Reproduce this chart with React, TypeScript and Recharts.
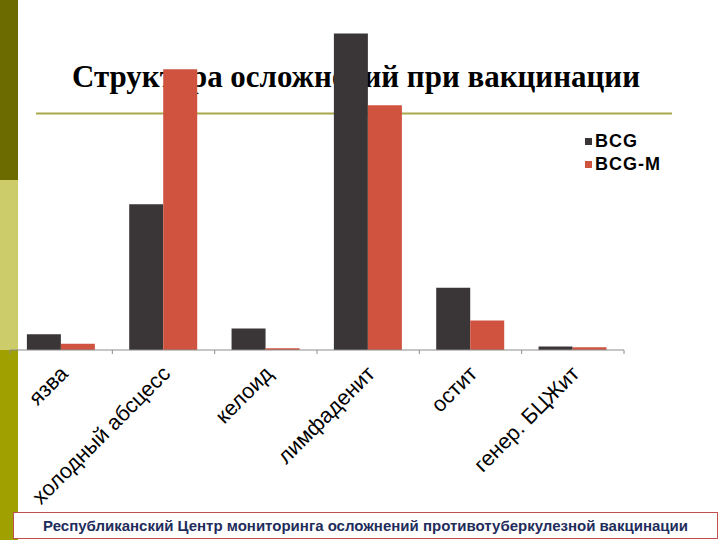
import React from "react";
import { BarChart, Bar, XAxis, YAxis } from "recharts";

const categories = ["язва", "холодный абсцесс", "келоид", "лимфаденит", "остит", "генер. БЦЖит"];
const bcgValues = [2.8, 25.8, 3.8, 56.0, 11.0, 0.6];
const bcgMValues = [1.1, 49.7, 0.3, 43.3, 5.2, 0.5];
const seriesNames = ["BCG", "BCG-M"];
const seriesColors = ["#3a3536", "#cf533f"];
const titleText = "Структура осложнений при вакцинации";
const footerText = "Республиканский Центр мониторинга осложнений противотуберкулезной вакцинации";

const data = categories.map((c, i) => ({ name: c, bcg: bcgValues[i], bcgM: bcgMValues[i] }));

const PLOT_LEFT = 10;
const PLOT_RIGHT = 624;
const BAND = (PLOT_RIGHT - PLOT_LEFT) / categories.length;

const Tick = (props: any) => {
  const { x, y, payload, index } = props;
  const half = BAND / 2;
  return (
    <g>
      <line x1={x - half} x2={x - half} y1={y} y2={y + 4} stroke="#8c8c8c" strokeWidth={1} />
      {index === categories.length - 1 && (
        <line x1={x + half} x2={x + half} y1={y} y2={y + 4} stroke="#8c8c8c" strokeWidth={1} />
      )}
      <text
        transform={`translate(${x + 8},${y + 25}) rotate(-45)`}
        textAnchor="end"
        fontFamily="'Liberation Sans', Arial, sans-serif"
        fontSize={21.5}
        fill="#000"
      >
        {payload.value}
      </text>
    </g>
  );
};

export default function App() {
  return (
    <div style={{ position: "absolute", left: 0, top: 0, width: 720, height: 540, background: "#fff", overflow: "hidden" }}>
      {/* side bar */}
      <div style={{ position: "absolute", left: 0, top: 0, width: 18, height: 180, background: "#6b6b00" }} />
      <div style={{ position: "absolute", left: 0, top: 180, width: 18, height: 170, background: "#cccc6a" }} />
      <div style={{ position: "absolute", left: 0, top: 350, width: 18, height: 190, background: "#a0a000" }} />

      {/* title and rule (behind the chart) */}
      <svg width={720} height={130} style={{ position: "absolute", left: 0, top: 0 }}>
        <text
          x={72}
          y={87}
          textLength={568}
          lengthAdjust="spacingAndGlyphs"
          fontFamily="'Liberation Serif', 'Times New Roman', serif"
          fontWeight="bold"
          fontSize={31}
          fill="#000"
        >
          {titleText}
        </text>
        <line x1={36} x2={672} y1={113.5} y2={113.5} stroke="#a8a84a" strokeWidth={2} />
      </svg>

      {/* chart */}
      <div style={{ position: "absolute", left: 0, top: 0 }}>
        <BarChart
          width={720}
          height={540}
          data={data}
          margin={{ top: 11, right: 720 - PLOT_RIGHT, left: PLOT_LEFT, bottom: 0 }}
          barCategoryGap="16.5%"
          barGap={0}
        >
          <YAxis hide domain={[0, 60]} />
          <XAxis
            dataKey="name"
            height={190}
            interval={0}
            tickLine={false}
            tickSize={0}
            tickMargin={0}
            axisLine={{ stroke: "#8c8c8c", strokeWidth: 1 }}
            tick={<Tick />}
          />
          <Bar dataKey="bcg" name={seriesNames[0]} fill={seriesColors[0]} isAnimationActive={false} />
          <Bar dataKey="bcgM" name={seriesNames[1]} fill={seriesColors[1]} isAnimationActive={false} />
        </BarChart>
      </div>

      {/* legend */}
      <div style={{ position: "absolute", left: 585, top: 130, fontFamily: "'Liberation Sans', Arial, sans-serif", fontWeight: "bold", fontSize: 18, letterSpacing: 1, color: "#000" }}>
        {seriesNames.map((n, i) => (
          <div key={n} style={{ display: "flex", alignItems: "center", height: 23 }}>
            <div style={{ width: 7, height: 7, background: seriesColors[i], marginRight: 3 }} />
            <span>{n}</span>
          </div>
        ))}
      </div>

      {/* footer */}
      <div
        style={{
          position: "absolute",
          left: 13,
          top: 512,
          width: 703,
          height: 25,
          border: "1px solid #c0504d",
          background: "#fff",
          display: "flex",
          alignItems: "center",
          justifyContent: "center",
          fontFamily: "'Liberation Sans', Arial, sans-serif",
          fontWeight: "bold",
          fontSize: 15,
          color: "#1f2d5c",
        }}
      >
        {footerText}
      </div>
    </div>
  );
}
